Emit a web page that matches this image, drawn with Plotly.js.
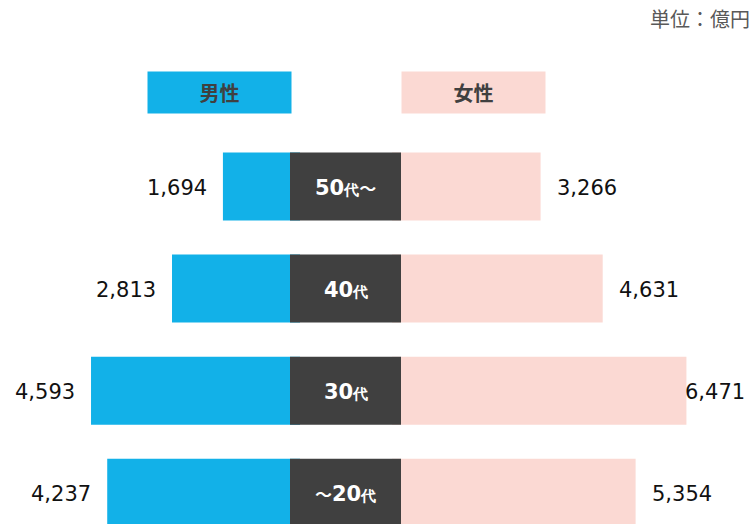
<!DOCTYPE html>
<html>
<head>
<meta charset="utf-8">
<script src="https://cdn.plot.ly/plotly-3.0.1.min.js"></script>
<style>
  html, body { margin: 0; padding: 0; background: #fff; }
  #chart { width: 753px; height: 524px; }
</style>
</head>
<body>
<div id="chart"></div>
<script>
// ---- data ----
const ages = ['50代～', '40代', '30代', '～20代'];
const male = [1694, 2813, 4593, 4237];
const female = [3266, 4631, 6471, 5354];
const seriesNames = ['男性', '女性'];
const unitLabel = '単位：億円';

// ---- styling / layout constants ----
const W = 753, H = 524;
const pxPerUnit = 0.0455;
const maleZeroPx = 300, femaleZeroPx = 392;
const boxLeftPx = 290, boxRightPx = 401;
const blue = '#12B1E8', pink = '#FBD9D3', dark = '#404040';
const numFont = 'DejaVu Sans, Verdana, sans-serif';
const cjkFont = '"Noto Sans CJK JP", "DejaVu Sans", sans-serif';
const barFrac = 0.666;
const rowPitch = 102.1, firstRowPx = 186.5;

function fmt(v) { return v.toLocaleString('en-US'); }
function centerHtml(s) {
  return '<b>' + s.replace(/代/g, '<span style="font-size:15px">代</span>')
                  .replace(/～/g, '<span style="font-size:17px;font-family:\'Noto Sans CJK JP\'">～</span>') + '</b>';
}

const traces = [
  { type: 'bar', orientation: 'h', x: male, y: ages, xaxis: 'x', yaxis: 'y',
    marker: { color: blue }, width: barFrac, hoverinfo: 'skip', name: seriesNames[0] },
  { type: 'bar', orientation: 'h', x: female, y: ages, xaxis: 'x2', yaxis: 'y',
    marker: { color: pink }, width: barFrac, hoverinfo: 'skip', name: seriesNames[1] },
  { type: 'bar', orientation: 'h', x: ages.map(() => 1), y: ages, xaxis: 'x3', yaxis: 'y',
    marker: { color: dark }, width: barFrac, hoverinfo: 'skip' }
];

const annotations = [];
ages.forEach((a, i) => {
  annotations.push({ x: 0.5, y: a, xref: 'x3', yref: 'y', text: centerHtml(a),
    showarrow: false, xanchor: 'center', yanchor: 'middle', yshift: -1,
    font: { family: numFont, size: 21, color: '#ffffff' } });
});
male.forEach((v, i) => {
  annotations.push({ x: v, y: ages[i], xref: 'x', yref: 'y', text: fmt(v),
    showarrow: false, xanchor: 'right', yanchor: 'middle', xshift: -14, yshift: -1,
    font: { family: numFont, size: 21, color: '#111' } });
});
female.forEach((v, i) => {
  const endPx = femaleZeroPx + v * pxPerUnit;
  const shift = (endPx + 16 + 60 > W) ? -3 : 14;
  annotations.push({ x: v, y: ages[i], xref: 'x2', yref: 'y', text: fmt(v),
    showarrow: false, xanchor: 'left', yanchor: 'middle', xshift: shift, yshift: -1,
    font: { family: numFont, size: 21, color: '#111' } });
});
// legend boxes
annotations.push({ xref: 'paper', yref: 'paper', x: 147 / W, y: 1 - 92.5 / H,
  xanchor: 'left', yanchor: 'middle', width: 143, height: 41, borderpad: 0,
  bgcolor: blue, text: '<b>' + seriesNames[0] + '</b>', showarrow: false,
  font: { family: cjkFont, size: 20, color: dark } });
annotations.push({ xref: 'paper', yref: 'paper', x: boxRightPx / W, y: 1 - 92.5 / H,
  xanchor: 'left', yanchor: 'middle', width: 143, height: 41, borderpad: 0,
  bgcolor: pink, text: '<b>' + seriesNames[1] + '</b>', showarrow: false,
  font: { family: cjkFont, size: 20, color: dark } });
// unit
annotations.push({ xref: 'paper', yref: 'paper', x: 1, y: 1 - 18 / H,
  xanchor: 'right', yanchor: 'middle', xshift: -1, text: unitLabel, showarrow: false,
  font: { family: cjkFont, size: 20, color: '#595959' } });

const hidden = { showgrid: false, zeroline: false, showticklabels: false, showline: false, ticks: '', fixedrange: true };

const layout = {
  width: W, height: H,
  margin: { l: 0, r: 0, t: 0, b: 0, pad: 0 },
  paper_bgcolor: '#fff', plot_bgcolor: 'rgba(0,0,0,0)',
  showlegend: false,
  barmode: 'overlay',
  xaxis: Object.assign({}, hidden, { domain: [0, maleZeroPx / W], range: [maleZeroPx / pxPerUnit, 0], autorange: false }),
  xaxis2: Object.assign({}, hidden, { domain: [femaleZeroPx / W, 1], range: [0, (W - femaleZeroPx) / pxPerUnit], autorange: false }),
  xaxis3: Object.assign({}, hidden, { domain: [boxLeftPx / W, boxRightPx / W], range: [0, 1], autorange: false }),
  yaxis: Object.assign({}, hidden, { type: 'category', categoryorder: 'array', categoryarray: ages,
    range: [(H - firstRowPx) / rowPitch, -firstRowPx / rowPitch], autorange: false }),
  annotations: annotations
};

Plotly.newPlot('chart', traces, layout, { staticPlot: true, displayModeBar: false });
</script>
</body>
</html>
